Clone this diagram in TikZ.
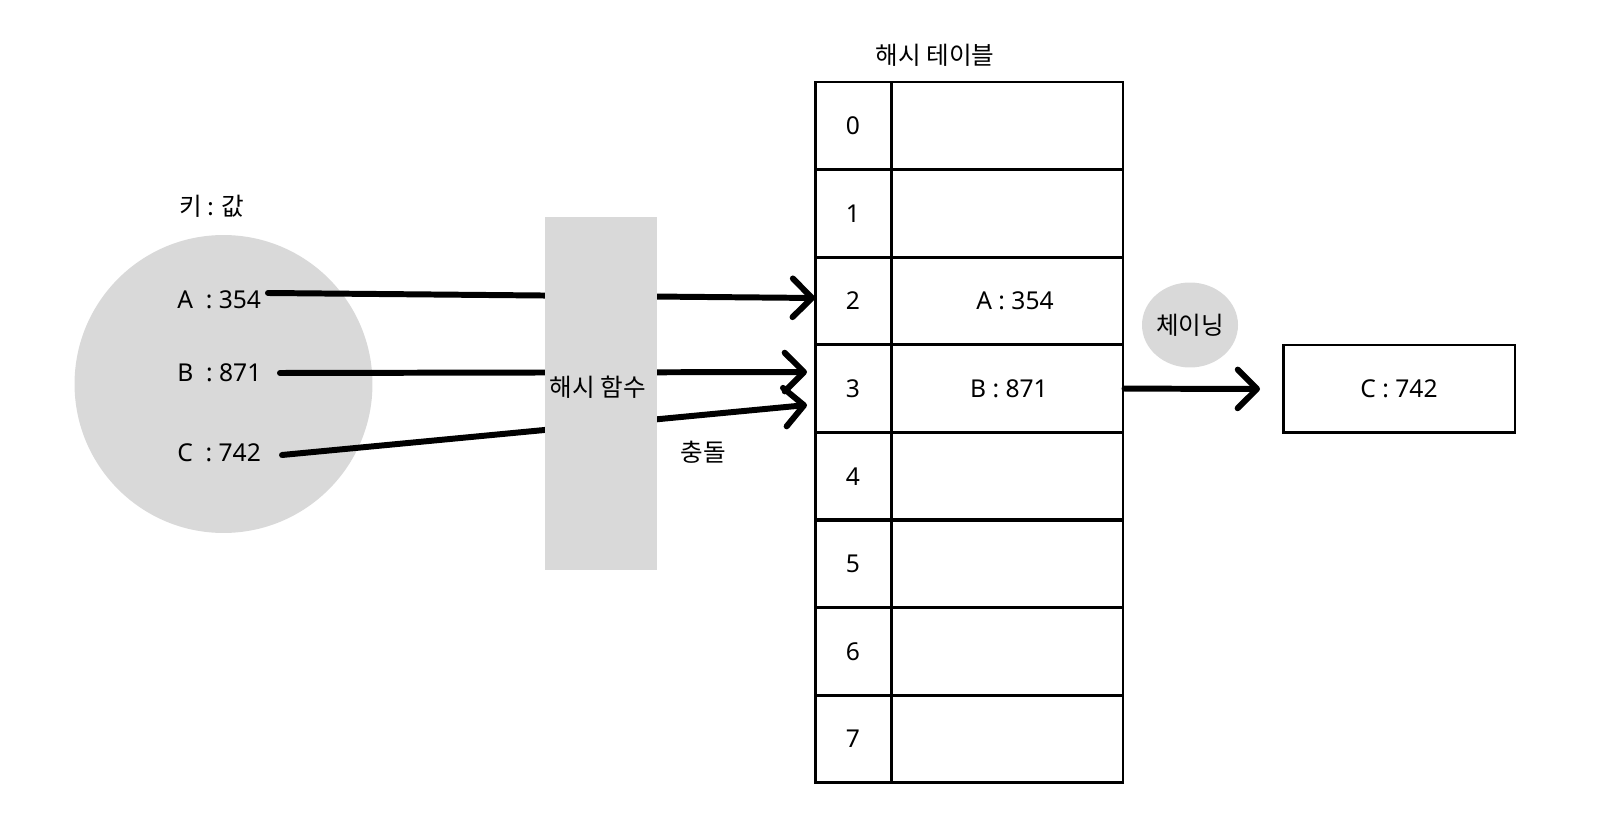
\documentclass[tikz,border=0pt]{standalone}
\usepackage{fontspec}
\setmainfont{Noto Sans}
\newfontfamily\kr{Noto Sans CJK KR}
\usetikzlibrary{arrows.meta,shapes.geometric}
\definecolor{shade}{HTML}{D9D9D9}
\begin{document}
\begin{tikzpicture}[x=0.02cm,y=-0.02cm,
  font=\fontsize{14}{16}\selectfont,
  txt/.style={inner sep=0pt},
  conn/.style={line width=3.4pt, line cap=round},
  arr/.style={conn, -{Straight Barb[length=11pt,width=22pt,round]}},
  cell/.style={draw, line width=1.7pt, minimum height=1.752cm, inner sep=0pt},
  idx/.style={cell, minimum width=1.52cm},
  val/.style={cell, minimum width=4.64cm}]
\useasboundingbox (0,0) rectangle (1601,813);
% keys
\node[circle, fill=shade, minimum size=5.96cm, inner sep=0pt] (keys) at (223.5,384) {};
\node[txt] (keytitle) at (212,206) {\kr 키 : 값};
\node[txt, anchor=west] (ka) at (177,300) {A\ \ : 354};
\node[txt, anchor=west] (kb) at (177,373) {B\ \ : 871};
\node[txt, anchor=west] (kc) at (177,453) {C\ \ : 742};
% table
\node[txt] (ttitle) at (935,55) {\kr 해시 테이블};
\foreach \i in {0,...,7} {
  \node[idx] (i\i) at (853,{82+87.6*(\i+0.5)}) {\i};
  \node[val] (v\i) at (1007,{82+87.6*(\i+0.5)}) {};
}
\node[txt] (va) at (1015,301) {A : 354};
\node[txt] (vb) at (1009,389) {B : 871};
% connectors
\coordinate (sa) at (268,293);
\coordinate (sb) at (280,373);
\coordinate (sc) at (282,455);
\coordinate (ta) at (815,298);
\coordinate (tb) at (807,372);
\coordinate (tc) at (807,405);
\draw[arr] (sa) -- (ta);
\draw[arr] (sb) -- (tb);
\draw[arr] (sc) -- (tc);
% hash function
\node[rectangle, fill=shade, minimum width=2.24cm, minimum height=7.06cm, inner sep=0pt] (hash) at (601,393.5) {};
\node[txt] (hashlbl) at (598,387) {\kr 해시 함수};
\node[txt] (coll) at (703,452) {\kr 충돌};
% chaining
\node[ellipse, fill=shade, minimum width=1.88cm, minimum height=1.7cm, inner sep=0pt] (chain) at (1190,325) {\kr 체이닝};
\node[cell, minimum width=4.64cm, minimum height=1.76cm] (cbox) at (1399,389) {C : 742};
\coordinate (ct) at (1260,389);
\draw[arr] (v3.east) -- (ct);
\end{tikzpicture}
\end{document}
